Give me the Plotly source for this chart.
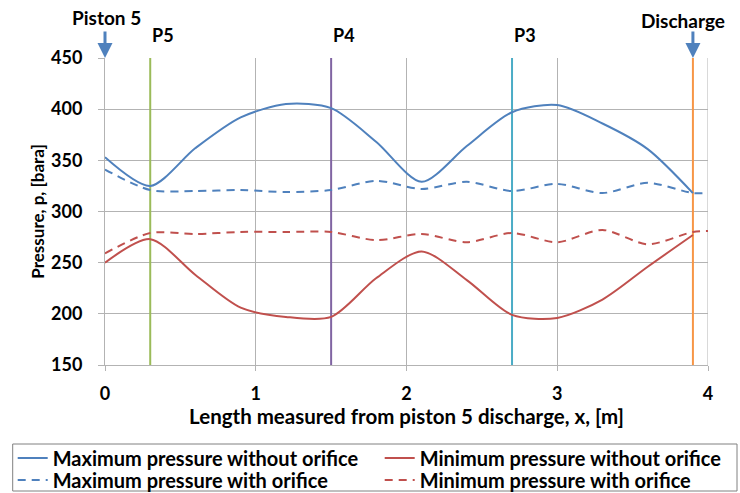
import plotly.graph_objects as go

# Position along the line, m
x_pos = [0.0, 0.3, 0.6, 0.9, 1.2, 1.5, 1.8, 2.1, 2.4, 2.7, 3.0, 3.3, 3.6, 3.9]
x_pos_ext = x_pos + [4.0]

# Pressures, bara
max_no_orifice = [353, 325, 362, 392, 405, 401, 368, 329, 364, 397, 404, 386, 361, 318]
min_no_orifice = [250, 273, 238, 206, 197, 197, 235, 261, 233, 199, 196, 214, 246, 277]
max_orifice = [341, 321, 320, 321, 319, 321, 330, 322, 329, 320, 327, 318, 328, 318, 318]
min_orifice = [259, 279, 278, 280, 280, 280, 272, 278, 270, 279, 270, 282, 268, 280, 281]

# Measurement stations
station_x = [0.3, 1.5, 2.7, 3.9]
station_names = ["P5", "P4", "P3", ""]
station_colors = ["#9BBB59", "#8064A2", "#4BACC6", "#F79646"]

BLUE = "#4F81BD"
RED = "#C0504D"
GRID = "#B3B3B3"
FONT = "Lato"

W, H = 740, 493
# plot area in pixels (left, right, top, bottom)
PL, PR, PT, PB = 105, 708, 58, 365
GS_H = PB - PT

fig = go.Figure()

for sx, sc in zip(station_x, station_colors):
    fig.add_trace(go.Scatter(x=[sx, sx], y=[150, 450], mode="lines",
                             line=dict(color=sc, width=2), showlegend=False,
                             hoverinfo="skip"))

fig.add_trace(go.Scatter(x=x_pos, y=max_no_orifice, mode="lines", legend="legend",
                         name="Maximum pressure without orifice",
                         line=dict(color=BLUE, width=2, shape="spline", smoothing=0.8)))
fig.add_trace(go.Scatter(x=x_pos, y=min_no_orifice, mode="lines", legend="legend",
                         name="Minimum pressure without orifice",
                         line=dict(color=RED, width=2, shape="spline", smoothing=0.8)))
fig.add_trace(go.Scatter(x=x_pos_ext, y=max_orifice, mode="lines", legend="legend2",
                         name="Maximum pressure with orifice",
                         line=dict(color=BLUE, width=2, dash="8px,6px", shape="spline", smoothing=0.8)))
fig.add_trace(go.Scatter(x=x_pos_ext, y=min_orifice, mode="lines", legend="legend2",
                         name="Minimum pressure with orifice",
                         line=dict(color=RED, width=2, dash="8px,6px", shape="spline", smoothing=0.8)))

annotations = []
for sx, name in zip(station_x, station_names):
    if name:
        annotations.append(dict(x=sx, y=450, xref="x", yref="y", text="<b>%s</b>" % name,
                                showarrow=False, xanchor="left", yanchor="middle", yshift=23,
                                font=dict(family=FONT, size=18, color="black")))

# End markers: piston 5 outlet and discharge
for ex, label, ty, dx in [(0.0, "Piston 5", 17, 1), (3.9, "Discharge", 20, -10)]:
    annotations.append(dict(x=ex, y=450, xref="x", yref="y", text="", showarrow=True,
                            ax=0, ay=-28, arrowhead=2, arrowsize=1, arrowwidth=3,
                            arrowcolor=BLUE, standoff=0))
    annotations.append(dict(x=ex, y=450, xref="x", yref="y", text="<b>%s</b>" % label,
                            showarrow=False, xanchor="center", yanchor="middle",
                            xshift=dx, yshift=PT - ty,
                            font=dict(family=FONT, size=19, color="black")))

legend_style = dict(orientation="h", xref="container", yref="container",
                    x=12.7 / W, xanchor="left", yanchor="middle",
                    bgcolor="rgba(0,0,0,0)", borderwidth=0, entrywidth=322,
                    font=dict(family=FONT, size=20, color="black", weight="bold"),
                    itemwidth=30)

fig.update_layout(
    width=W, height=H,
    margin=dict(l=0, r=0, t=PT, b=H - PB),
    paper_bgcolor="white", plot_bgcolor="rgba(0,0,0,0)",
    font=dict(family=FONT, size=17, color="black"),
    annotations=annotations,
    legend=dict(legend_style, y=1 - 458 / H),
    legend2=dict(legend_style, y=1 - 480 / H),
)

# frame around the two legend rows
fig.add_shape(type="rect", xref="paper", yref="paper",
              x0=12.7 / W, x1=737 / W, y0=(PB - 491) / GS_H, y1=(PB - 444) / GS_H,
              line=dict(color="#808080", width=1), fillcolor="rgba(0,0,0,0)")

fig.update_xaxes(range=[0, 4], dtick=1, domain=[PL / W, PR / W], showgrid=True,
                 gridcolor=GRID, gridwidth=1,
                 showline=True, linecolor=GRID, ticks="outside", ticklen=5, tickcolor=GRID,
                 tickfont=dict(family=FONT, size=18, color="black", weight="bold"),
                 ticklabelstandoff=7, zeroline=False, automargin=False,
                 title=dict(text="<b>Length measured from piston 5 discharge, x, [m]</b>",
                            font=dict(family=FONT, size=20.5), standoff=5))
fig.update_yaxes(range=[150, 450], dtick=50, showgrid=True,
                 gridcolor=GRID, gridwidth=1,
                 showline=True, linecolor=GRID, ticks="outside", ticklen=6, tickcolor=GRID,
                 tickfont=dict(family=FONT, size=18, color="black", weight="bold"),
                 ticklabelstandoff=12, zeroline=False, automargin=False,
                 title=dict(text="<b>Pressure, p, [bara]</b>",
                            font=dict(family=FONT, size=17), standoff=2))

# right-hand border of the plot area at x = 4
fig.add_shape(type="line", xref="x", yref="y", x0=4, x1=4, y0=150, y1=450,
              line=dict(color=GRID, width=1), layer="below")

fig.write_html("out.html")
